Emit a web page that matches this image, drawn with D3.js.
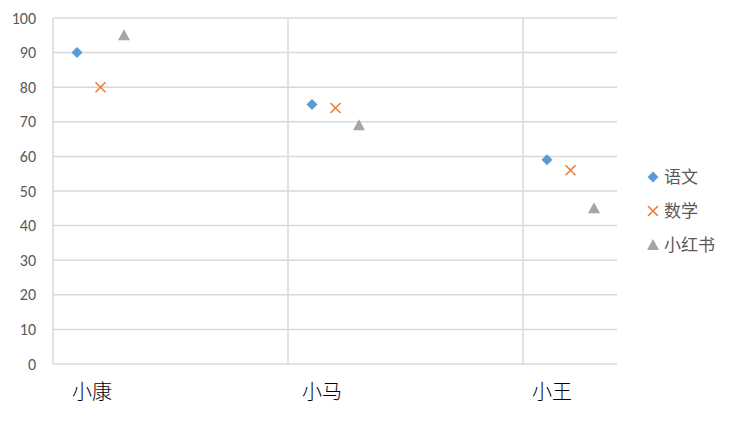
<!DOCTYPE html>
<html><head><meta charset="utf-8">
<script src="https://cdn.jsdelivr.net/npm/d3@7"></script>
<style>body{margin:0;background:#fff}</style>
</head><body>
<svg id="c" width="735" height="424"></svg>
<script>
const categories = ["小康", "小马", "小王"];
const seriesNames = ["语文", "数学", "小红书"];
const yuwen = [90, 75, 59];
const shuxue = [80, 74, 56];
const xiaohongshu = [95, 69, 45];
const yTicks = [0,10,20,30,40,50,60,70,80,90,100];

const colors = ["#5b9bd5", "#ed7d31", "#a5a5a5"];
const shapes = ["diamond", "x", "triangle"];
const seriesValues = [yuwen, shuxue, xiaohongshu];

const svg = d3.select("#c");
const pLeft = 53, pRight = 617, pTop = 18, pBottom = 364;
const x = d3.scaleBand().domain(categories).range([pLeft, pLeft + 235*3]);
const sub = d3.scalePoint().domain(seriesNames).range([24, 71]);
const labelX = d3.scalePoint().domain(categories).range([92, 552]);
const y = d3.scaleLinear().domain([0, 100]).range([pBottom, pTop]);
const grid = "#d9d9d9";

svg.append("g").selectAll("line").data(yTicks).join("line")
  .attr("x1", pLeft).attr("x2", pRight)
  .attr("y1", d => y(d)).attr("y2", d => y(d))
  .attr("stroke", grid).attr("stroke-width", 1.5);
svg.append("g").selectAll("line").data(categories).join("line")
  .attr("x1", d => x(d)).attr("x2", d => x(d))
  .attr("y1", pTop).attr("y2", pBottom)
  .attr("stroke", grid).attr("stroke-width", 1.5);

svg.append("g").selectAll("text").data(yTicks).join("text")
  .attr("x", 36).attr("y", d => y(d)).attr("dy", "0.35em")
  .attr("text-anchor", "end")
  .attr("font-family", "Carlito, 'Liberation Sans', Arial, sans-serif")
  .attr("font-size", 16).attr("fill", "#595959").text(d => d);

svg.append("g").selectAll("text").data(categories).join("text")
  .attr("x", d => labelX(d)).attr("y", 399)
  .attr("text-anchor", "middle")
  .attr("font-family", "'Noto Sans CJK SC', sans-serif")
  .attr("font-weight", 300)
  .attr("font-size", 20).attr("fill", "#000").text(d => d);

function drawMarker(g, shape, color, cx, cy) {
  if (shape === "diamond") {
    g.append("path").attr("d", `M${cx},${cy-5.5}L${cx+5.5},${cy}L${cx},${cy+5.5}L${cx-5.5},${cy}Z`).attr("fill", color);
  } else if (shape === "x") {
    g.append("path").attr("d", `M${cx-5},${cy-5}L${cx+5},${cy+5}M${cx+5},${cy-5}L${cx-5},${cy+5}`)
      .attr("stroke", color).attr("stroke-width", 1.6).attr("fill", "none");
  } else {
    g.append("path").attr("d", `M${cx},${cy-6}L${cx+6},${cy+5}L${cx-6},${cy+5}Z`).attr("fill", color);
  }
}

const mg = svg.append("g");
seriesNames.forEach((s, i) => {
  categories.forEach((c, j) => {
    drawMarker(mg, shapes[i], colors[i], x(c) + sub(s), y(seriesValues[i][j]));
  });
});

const lg = svg.append("g");
seriesNames.forEach((s, i) => {
  const ly = 177 + i * 34;
  drawMarker(lg, shapes[i], colors[i], 653, ly);
  lg.append("text").attr("x", 664).attr("y", ly).attr("dy", "0.35em")
    .attr("font-family", "'Noto Sans CJK SC', sans-serif")
    .attr("font-size", 17).attr("fill", "#595959").text(s);
});
</script>
</body></html>
